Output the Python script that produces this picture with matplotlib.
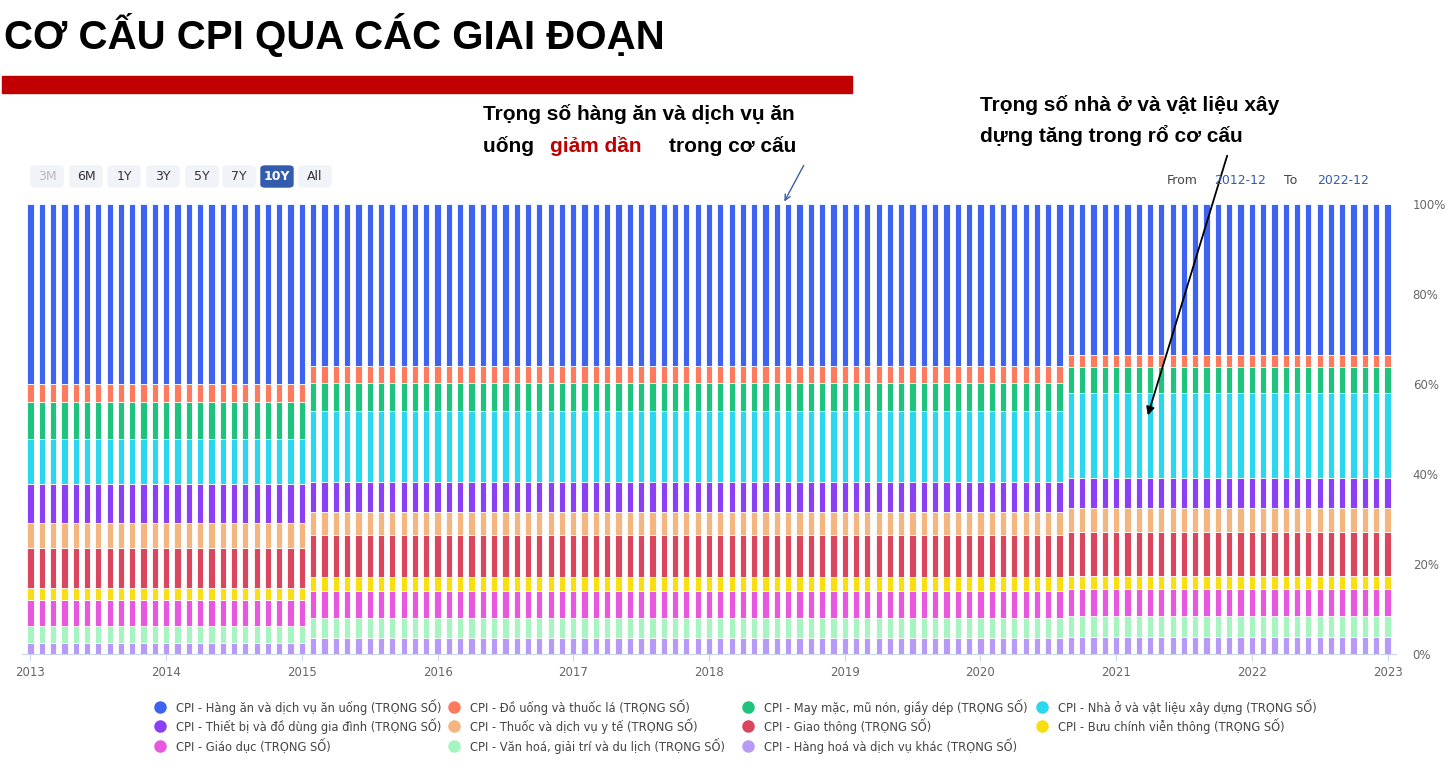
import matplotlib
matplotlib.use("Agg")
import matplotlib.pyplot as plt
import numpy as np

series_names = [
    "CPI - Hàng ăn và dịch vụ ăn uống (TRỌNG SỐ)",
    "CPI - Đồ uống và thuốc lá (TRỌNG SỐ)",
    "CPI - May mặc, mũ nón, giầy dép (TRỌNG SỐ)",
    "CPI - Nhà ở và vật liệu xây dựng (TRỌNG SỐ)",
    "CPI - Thiết bị và đồ dùng gia đình (TRỌNG SỐ)",
    "CPI - Thuốc và dịch vụ y tế (TRỌNG SỐ)",
    "CPI - Giao thông (TRỌNG SỐ)",
    "CPI - Bưu chính viễn thông (TRỌNG SỐ)",
    "CPI - Giáo dục (TRỌNG SỐ)",
    "CPI - Văn hoá, giải trí và du lịch (TRỌNG SỐ)",
    "CPI - Hàng hoá và dịch vụ khác (TRỌNG SỐ)",
]
colors = ["#3d63f0", "#ff7a5c", "#1ec47e", "#2bd6ef", "#8c40f5", "#f5b57f",
          "#d9465e", "#f9de12", "#e858de", "#a6f5c0", "#b79af7"]
# weights per basket period (same order as series_names)
weights_p1 = [39.93, 4.03, 8.28, 10.01, 8.65, 5.61, 8.87, 2.73, 5.72, 3.83, 2.37]  # 2012-12..2014-12
weights_p2 = [36.12, 3.59, 6.37, 15.73, 6.74, 5.04, 9.37, 3.14, 5.99, 4.29, 3.66]  # 2015-01..2020-07
weights_p3 = [33.56, 2.73, 5.70, 18.82, 6.74, 5.39, 9.67, 2.88, 6.17, 4.55, 3.79]  # 2020-08..2022-12
n_p1, n_p2, n_p3 = 25, 67, 29
year_labels = [str(y) for y in range(2013, 2024)]
ytick_labels = ["0%", "20%", "40%", "60%", "80%", "100%"]

data = np.array([weights_p1] * n_p1 + [weights_p2] * n_p2 + [weights_p3] * n_p3, dtype=float)
data = data / data.sum(axis=1, keepdims=True) * 100
n = data.shape[0]
x = np.arange(n)

W, H = 1452, 783
fig = plt.figure(figsize=(W / 100, H / 100), dpi=100)
fig.patch.set_facecolor("white")

ax = fig.add_axes([22 / W, (H - 654) / H, 1374 / W, 450 / H])
bottom = np.zeros(n)
for k in range(len(series_names) - 1, -1, -1):
    ax.bar(x, data[:, k], bottom=bottom, width=0.55, color=colors[k],
           edgecolor="white", linewidth=0.6)
    bottom += data[:, k]
ax.set_xlim(-0.75, n - 0.25)
ax.set_ylim(0, 100)
ax.yaxis.tick_right()
ax.set_yticks([0, 20, 40, 60, 80, 100])
ax.set_yticklabels(ytick_labels, fontsize=8.5, color="#666666")
ax.set_xticks(np.arange(0, n, 12))
ax.set_xticklabels(year_labels, fontsize=8.5, color="#666666")
ax.tick_params(axis="y", length=0, pad=12)
ax.tick_params(axis="x", length=5, color="#ccd6eb")
for s in ["top", "left", "right"]:
    ax.spines[s].set_visible(False)
ax.spines["bottom"].set_color("#ccd6eb")

# title and red bar
fig.text(4 / W, 1 - 35 / H, "CƠ CẤU CPI QUA CÁC GIAI ĐOẠN", fontsize=29, fontweight="bold",
         family="Liberation Sans", va="center")
fig.patches.append(matplotlib.patches.Rectangle((2 / W, 1 - 93 / H), 850 / W, 17 / H,
                   transform=fig.transFigure, color="#c00000"))

# range buttons
btns = ["3M", "6M", "1Y", "3Y", "5Y", "7Y", "10Y", "All"]
bx = [47, 86, 124, 163, 202, 239, 277, 315]
for b, cx in zip(btns, bx):
    sel = b == "10Y"
    fig.patches.append(matplotlib.patches.FancyBboxPatch(((cx - 16) / W, 1 - 187 / H), 32 / W, 21 / H,
                       boxstyle="round,pad=0,rounding_size=0.003", transform=fig.transFigure,
                       color="#335cad" if sel else "#f0f3f8"))
    fig.text(cx / W, 1 - 177 / H, b, fontsize=9, ha="center", va="center",
             color="white" if sel else ("#bbbbbb" if b == "3M" else "#333333"),
             fontweight="bold" if sel else "normal")
fig.text(1167 / W, 1 - 180 / H, "From", fontsize=9, color="#444444", va="center")
fig.text(1214 / W, 1 - 180 / H, "2012-12", fontsize=9, color="#335cad", va="center")
fig.text(1284 / W, 1 - 180 / H, "To", fontsize=9, color="#444444", va="center")
fig.text(1317 / W, 1 - 180 / H, "2022-12", fontsize=9, color="#335cad", va="center")

# annotations
fs = 15
fig.text(483 / W, 1 - 114 / H, "Trọng số hàng ăn và dịch vụ ăn", fontsize=fs, fontweight="bold",
         family="Liberation Sans", va="center")
t1 = fig.text(483 / W, 1 - 146 / H, "uống ", fontsize=fs, fontweight="bold",
              family="Liberation Sans", va="center")
fig.text(550 / W, 1 - 146 / H, "giảm dần", fontsize=fs, fontweight="bold", color="#c00000",
         family="Liberation Sans", va="center")
fig.text(669 / W, 1 - 146 / H, "trong cơ cấu", fontsize=fs, fontweight="bold",
         family="Liberation Sans", va="center")
fig.text(980 / W, 1 - 105 / H, "Trọng số nhà ở và vật liệu xây", fontsize=fs, fontweight="bold",
         family="Liberation Sans", va="center")
fig.text(980 / W, 1 - 136 / H, "dựng tăng trong rổ cơ cấu", fontsize=fs, fontweight="bold",
         family="Liberation Sans", va="center")
fig.add_artist(matplotlib.patches.FancyArrowPatch((805 / W, 1 - 163 / H), (783 / W, 1 - 204 / H),
               transform=fig.transFigure, arrowstyle="->", mutation_scale=10, color="#3d5fa8", lw=1))
fig.add_artist(matplotlib.patches.FancyArrowPatch((1228 / W, 1 - 153 / H), (1147 / W, 1 - 418 / H),
               transform=fig.transFigure, arrowstyle="-|>", mutation_scale=12, color="black", lw=1.3))

# legend
col_x = [160, 454, 748, 1042]
row_y = [707, 726, 746]
for i, (name, c) in enumerate(zip(series_names, colors)):
    r, cidx = divmod(i, 4)
    fig.add_artist(matplotlib.lines.Line2D([col_x[cidx] / W], [1 - row_y[r] / H], marker="o",
                   markersize=8, color=c, transform=fig.transFigure, linestyle=""))
    fig.text((col_x[cidx] + 16) / W, 1 - row_y[r] / H, name, fontsize=8.3, color="#444444",
             va="center")

fig.savefig("out.png", dpi=100)
